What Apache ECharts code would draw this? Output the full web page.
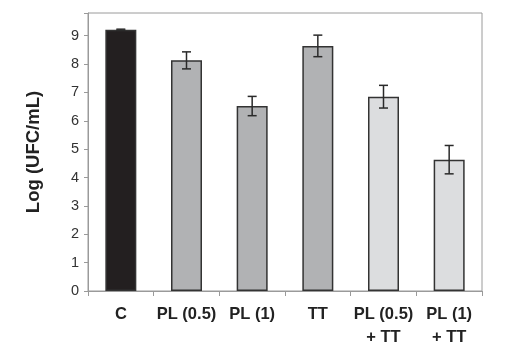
<!DOCTYPE html>
<html><head><meta charset="utf-8">
<script src="https://cdn.jsdelivr.net/npm/echarts@6/dist/echarts.min.js"></script>
<style>html,body{margin:0;padding:0;background:#fff}#c{width:509px;height:358px}</style>
</head><body><div id="c"></div>
<script>
const categories = ['C', 'PL (0.5)', 'PL (1)', 'TT', 'PL (0.5)\n+ TT', 'PL (1)\n+ TT'];
const values = [9.21, 8.13, 6.52, 8.64, 6.85, 4.63];
const errors = [0.02, 0.30, 0.34, 0.38, 0.40, 0.50];
const barColors = ['#231f20', '#b1b2b4', '#b1b2b4', '#b1b2b4', '#dcdddf', '#dcdddf'];
const yTicks = [0, 1, 2, 3, 4, 5, 6, 7, 8, 9];

const chart = echarts.init(document.getElementById('c'), null, {renderer: 'canvas'});
const errData = values.map((v, i) => [i, v - errors[i], v + errors[i]]);
chart.setOption({
  animation: false,
  grid: {left: 88, right: 27, top: 13, bottom: 67, show: true, borderColor: '#9a9a9a', borderWidth: 1},
  xAxis: {
    type: 'category', data: categories,
    axisLine: {lineStyle: {color: '#9a9a9a', width: 1}},
    axisTick: {show: true, length: 5, lineStyle: {color: '#9a9a9a'}},
    axisLabel: {color: '#222', fontFamily: 'Liberation Sans', fontWeight: 'bold', fontSize: 16.5, margin: 12, lineHeight: 23, interval: 0}
  },
  yAxis: {
    type: 'value', min: 0, max: 9.8, interval: 1,
    name: 'Log (UFC/mL)', nameLocation: 'middle', nameGap: 45, nameRotate: 90,
    nameTextStyle: {color: '#222', fontFamily: 'Liberation Sans', fontWeight: 'bold', fontSize: 18.5},
    splitLine: {show: false},
    axisLine: {show: true, lineStyle: {color: '#9a9a9a', width: 1}},
    axisTick: {show: true, length: 4, lineStyle: {color: '#9a9a9a'}},
    axisLabel: {color: '#333', fontFamily: 'Liberation Sans', fontSize: 14.5, margin: 9,
      formatter: v => yTicks.indexOf(v) >= 0 ? String(v) : ''}
  },
  series: [{
    type: 'bar', barWidth: 31,
    data: values.map((v, i) => ({value: v, itemStyle: {color: barColors[i]}})),
    itemStyle: {borderColor: '#333', borderWidth: 1.5}
  }, {
    type: 'custom', data: errData, z: 10,
    renderItem: function (params, api) {
      const x = api.value(0);
      const lo = api.coord([x, api.value(1)]);
      const hi = api.coord([x, api.value(2)]);
      const hw = 4.5;
      const st = {stroke: '#2a2a2a', lineWidth: 1.5};
      return {type: 'group', children: [
        {type: 'line', shape: {x1: lo[0], y1: lo[1], x2: hi[0], y2: hi[1]}, style: st},
        {type: 'line', shape: {x1: lo[0] - hw, y1: lo[1], x2: lo[0] + hw, y2: lo[1]}, style: st},
        {type: 'line', shape: {x1: hi[0] - hw, y1: hi[1], x2: hi[0] + hw, y2: hi[1]}, style: st}
      ]};
    }
  }]
});
</script></body></html>
